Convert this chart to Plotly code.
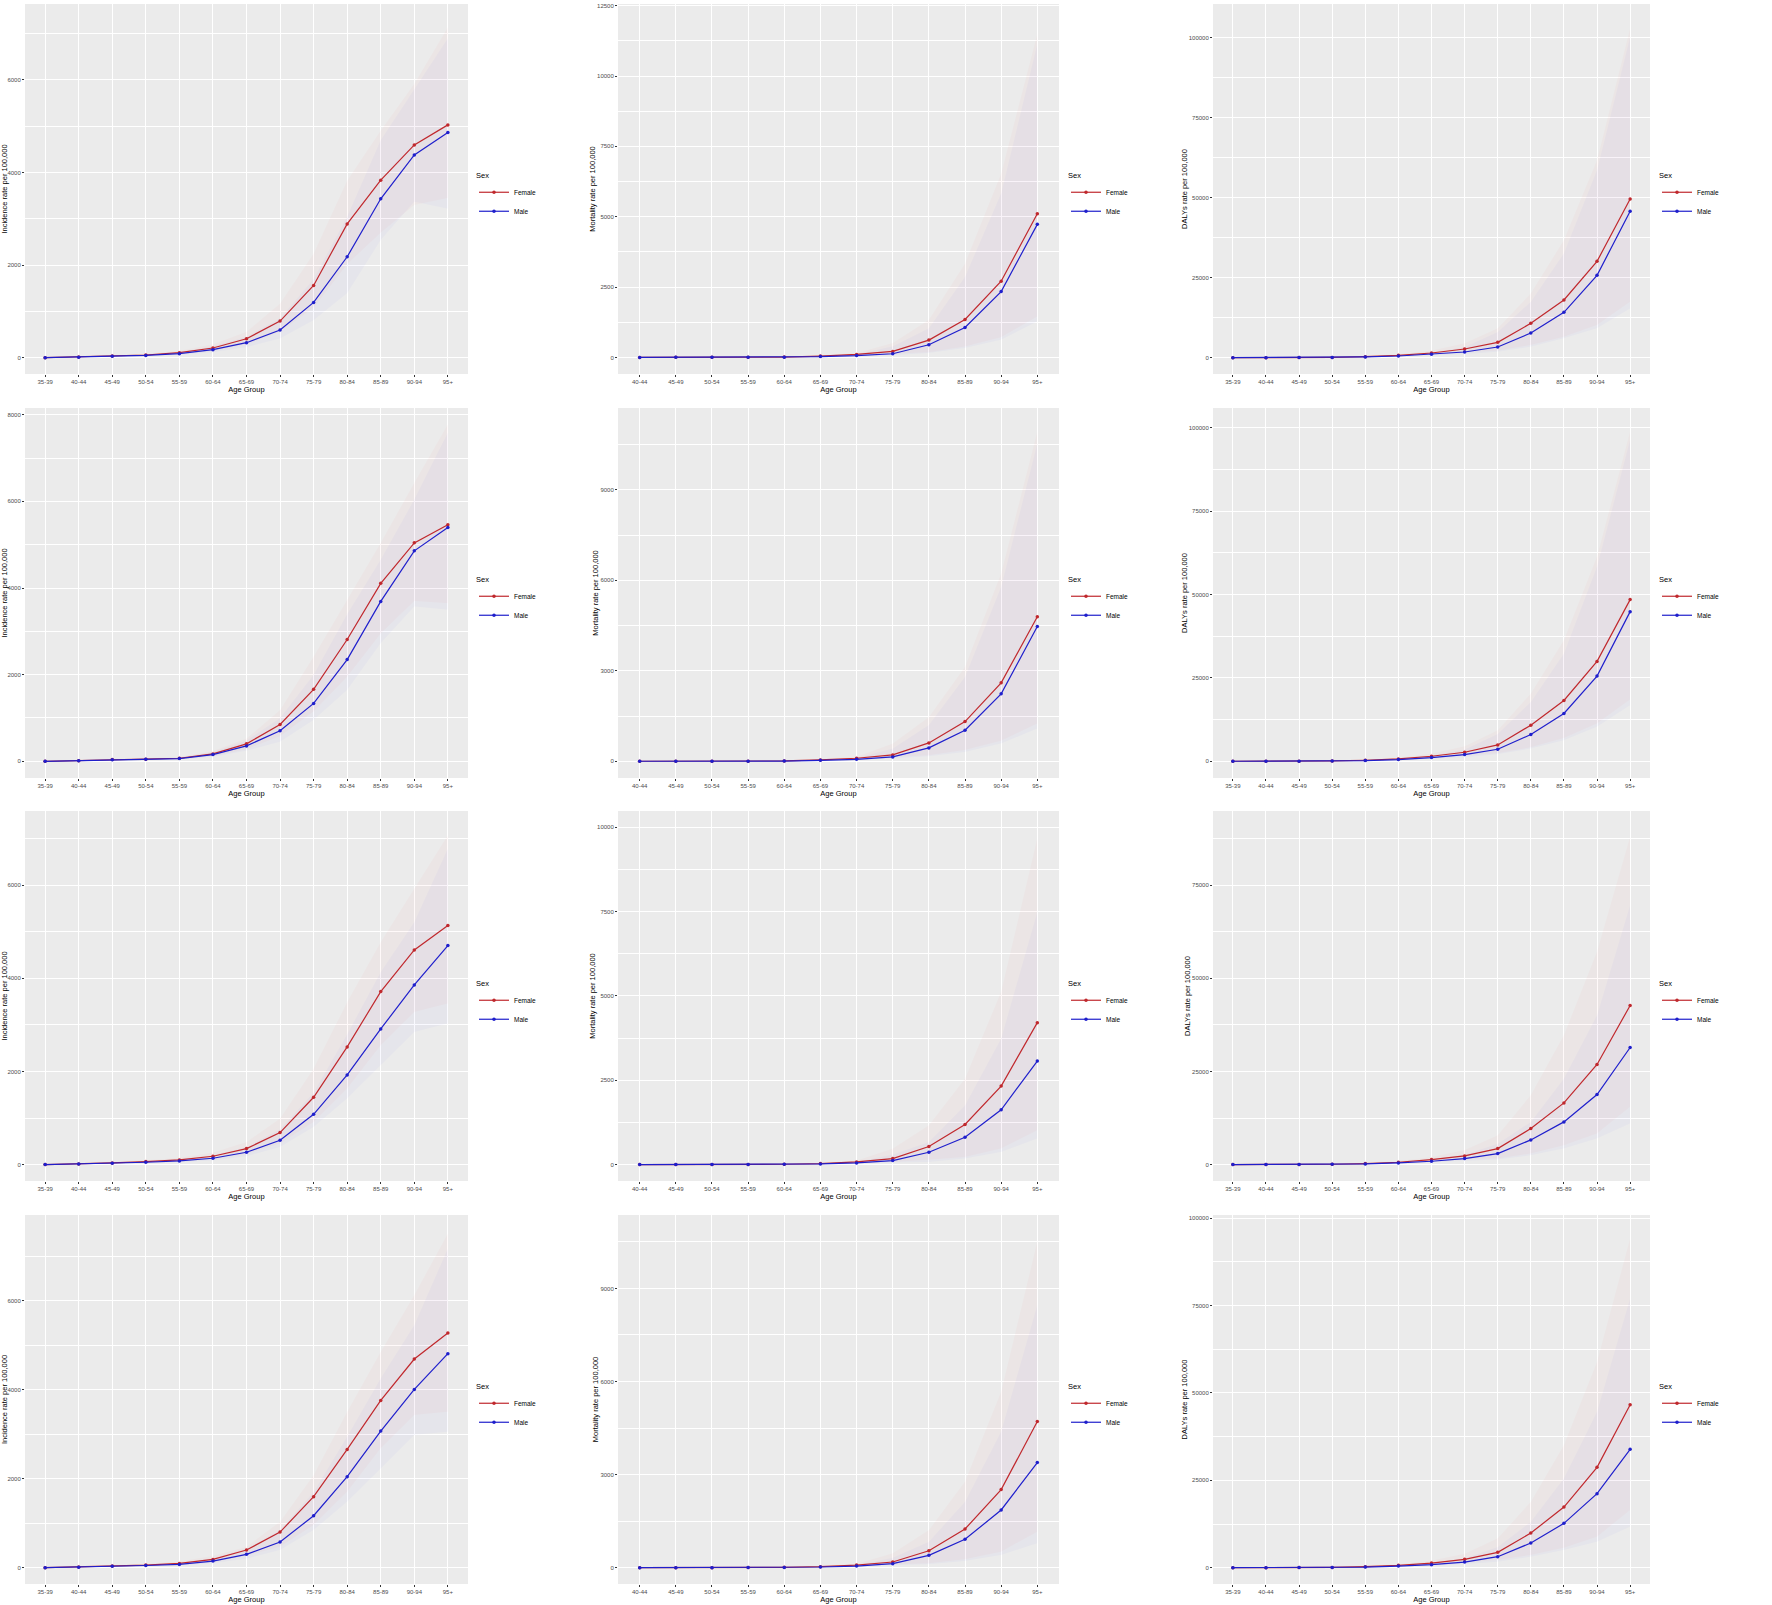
import plotly.graph_objects as go
from plotly.subplots import make_subplots

# 年龄组
AGES_13 = ["35-39", "40-44", "45-49", "50-54", "55-59", "60-64", "65-69",
           "70-74", "75-79", "80-84", "85-89", "90-94", "95+"]
AGES_12 = ["40-44", "45-49", "50-54", "55-59", "60-64", "65-69",
           "70-74", "75-79", "80-84", "85-89", "90-94", "95+"]

# 第1行
inc1_f = [0, 15, 36, 58, 108, 209, 410, 791, 1561, 2890, 3835, 4597, 5029]
inc1_f_hi = [2, 24, 55, 85, 150, 290, 560, 1170, 2250, 3830, 4910, 5920, 7140]
inc1_f_lo = [0, 10, 25, 40, 75, 145, 285, 560, 1080, 2020, 2700, 3300, 3450]
inc1_m = [0, 12, 30, 50, 86, 173, 324, 597, 1194, 2180, 3432, 4381, 4863]
inc1_m_hi = [2, 20, 45, 75, 125, 245, 455, 850, 1700, 3050, 4700, 5800, 6900]
inc1_m_lo = [0, 8, 20, 35, 60, 120, 225, 415, 810, 1390, 2540, 3370, 3220]

mort1_f = [0, 1, 2, 5, 12, 47, 106, 213, 615, 1348, 2707, 5106]
mort1_f_hi = [1, 2, 4, 8, 20, 75, 160, 510, 1340, 3340, 6540, 11500]
mort1_f_lo = [0, 0, 1, 3, 8, 30, 70, 130, 185, 390, 720, 1450]
mort1_m = [0, 1, 2, 4, 9, 30, 65, 130, 449, 1064, 2340, 4728]
mort1_m_hi = [1, 2, 4, 7, 16, 50, 110, 400, 1040, 2870, 5830, 11150]
mort1_m_lo = [0, 0, 1, 2, 5, 18, 40, 80, 154, 331, 626, 1277]

daly1_f = [5, 15, 40, 90, 313, 730, 1458, 2708, 4792, 10729, 18021, 30104, 49583]
daly1_f_hi = [8, 25, 65, 140, 470, 1100, 2250, 4480, 9170, 20100, 36770, 61770, 102900]
daly1_f_lo = [3, 10, 27, 60, 210, 480, 950, 1700, 2190, 3960, 6560, 10200, 17500]
daly1_m = [3, 10, 30, 70, 250, 520, 1042, 1771, 3333, 7708, 14167, 25729, 45729]
daly1_m_hi = [6, 18, 50, 110, 380, 800, 1650, 3300, 8000, 17500, 32600, 58650, 100300]
daly1_m_lo = [2, 6, 20, 45, 160, 330, 650, 1050, 1875, 3440, 6040, 9170, 15400]

# 第2行
inc2_f = [0, 15, 39, 46, 70, 170, 402, 849, 1660, 2811, 4108, 5042, 5459]
inc2_f_hi = [2, 24, 58, 68, 100, 240, 525, 1181, 2417, 3730, 5042, 6432, 7780]
inc2_f_lo = [0, 10, 27, 32, 48, 115, 280, 580, 1150, 1950, 2950, 3700, 3650]
inc2_m = [0, 13, 36, 44, 62, 154, 355, 703, 1336, 2347, 3691, 4857, 5397]
inc2_m_hi = [2, 20, 52, 63, 90, 215, 480, 1000, 2000, 3400, 4656, 6046, 7590]
inc2_m_lo = [0, 9, 25, 30, 42, 105, 245, 448, 950, 1645, 2726, 3575, 3498]

mort2_f = [0, 1, 2, 4, 11, 44, 100, 210, 609, 1317, 2601, 4793]
mort2_f_hi = [1, 2, 4, 7, 18, 70, 150, 587, 1472, 3133, 6235, 10940]
mort2_f_lo = [0, 0, 1, 2, 7, 28, 65, 130, 200, 370, 680, 1250]
mort2_m = [0, 1, 2, 3, 8, 30, 66, 144, 443, 1030, 2236, 4472]
mort2_m_hi = [1, 2, 4, 6, 14, 48, 105, 420, 1200, 2800, 5790, 10550]
mort2_m_lo = [0, 0, 1, 2, 5, 18, 40, 90, 166, 310, 587, 1085]

daly2_f = [5, 15, 40, 90, 300, 701, 1503, 2705, 4910, 10822, 18236, 29960, 48497]
daly2_f_hi = [8, 25, 65, 140, 450, 1050, 2300, 4500, 9320, 20340, 36350, 61400, 99000]
daly2_f_lo = [3, 10, 27, 60, 200, 470, 980, 1700, 2400, 4200, 7000, 11300, 18500]
daly2_m = [3, 10, 30, 70, 200, 501, 1102, 2004, 3607, 8016, 14329, 25551, 44890]
daly2_m_hi = [6, 18, 50, 110, 310, 780, 1750, 3500, 8200, 17800, 32300, 58400, 96500]
daly2_m_lo = [2, 6, 20, 45, 130, 320, 700, 1200, 2100, 3810, 6310, 10320, 16830]

# 第3行
inc3_f = [0, 14, 36, 64, 100, 179, 343, 687, 1445, 2526, 3714, 4608, 5130]
inc3_f_hi = [2, 22, 54, 95, 145, 260, 487, 988, 2064, 3490, 4780, 5925, 7070]
inc3_f_lo = [0, 9, 24, 44, 68, 120, 230, 451, 916, 1631, 2562, 3277, 3456]
inc3_m = [0, 12, 31, 51, 79, 136, 265, 522, 1080, 1925, 2912, 3857, 4701]
inc3_m_hi = [2, 19, 46, 76, 115, 200, 380, 760, 1550, 2800, 4135, 5209, 6784]
inc3_m_lo = [0, 8, 21, 35, 53, 90, 180, 379, 809, 1417, 2132, 2848, 3027]

mort3_f = [0, 1, 2, 4, 10, 30, 79, 178, 535, 1188, 2327, 4208]
mort3_f_hi = [1, 2, 4, 7, 16, 48, 120, 475, 1168, 2554, 5129, 9683]
mort3_f_lo = [0, 0, 1, 2, 6, 19, 45, 80, 140, 228, 475, 1020]
mort3_m = [0, 1, 2, 3, 7, 20, 50, 119, 366, 812, 1624, 3069]
mort3_m_hi = [1, 2, 4, 6, 12, 34, 85, 300, 673, 1762, 3740, 7500]
mort3_m_lo = [0, 0, 1, 2, 4, 12, 30, 60, 79, 178, 376, 772]

daly3_f = [5, 15, 40, 90, 269, 627, 1343, 2327, 4297, 9667, 16560, 26855, 42700]
daly3_f_hi = [8, 25, 65, 140, 410, 950, 2050, 3900, 7880, 18650, 34760, 57160, 88000]
daly3_f_lo = [3, 10, 27, 60, 180, 420, 880, 1450, 1610, 2950, 5190, 8330, 15490]
daly3_m = [3, 10, 30, 70, 179, 448, 895, 1611, 2954, 6624, 11458, 18800, 31420]
daly3_m_hi = [6, 18, 50, 110, 280, 700, 1420, 2700, 5600, 11460, 23100, 40100, 69650]
daly3_m_lo = [2, 6, 20, 45, 115, 290, 570, 980, 1340, 2500, 4300, 6980, 11010]

# 第4行
inc4_f = [0, 15, 37, 60, 97, 187, 397, 801, 1596, 2659, 3760, 4689, 5273]
inc4_f_hi = [2, 24, 56, 90, 140, 270, 472, 1034, 2082, 3506, 4854, 6127, 7513]
inc4_f_lo = [0, 10, 25, 41, 66, 125, 270, 472, 959, 1708, 2682, 3431, 3506]
inc4_m = [0, 12, 31, 50, 75, 150, 300, 577, 1169, 2045, 3071, 4007, 4809]
inc4_m_hi = [2, 19, 46, 74, 110, 220, 430, 850, 1700, 2950, 4255, 5453, 7176]
inc4_m_lo = [0, 8, 21, 34, 50, 100, 200, 397, 846, 1483, 2232, 2981, 3056]

mort4_f = [0, 1, 2, 4, 11, 32, 86, 183, 548, 1247, 2516, 4710]
mort4_f_hi = [1, 2, 4, 7, 18, 52, 130, 462, 1215, 2774, 5677, 10516]
mort4_f_lo = [0, 0, 1, 2, 7, 20, 55, 100, 140, 269, 516, 1161]
mort4_m = [0, 1, 2, 3, 8, 22, 54, 129, 398, 914, 1860, 3387]
mort4_m_hi = [1, 2, 4, 6, 13, 36, 90, 320, 839, 2129, 4387, 8473]
mort4_m_lo = [0, 0, 1, 2, 5, 13, 32, 70, 108, 215, 409, 785]

daly4_f = [5, 15, 40, 90, 286, 668, 1336, 2385, 4389, 9924, 17366, 28721, 46660]
daly4_f_hi = [8, 25, 65, 140, 430, 1010, 2050, 4000, 8400, 18890, 35110, 58970, 94270]
daly4_f_lo = [3, 10, 27, 60, 190, 440, 870, 1480, 2190, 3630, 5730, 8870, 16510]
daly4_m = [3, 10, 30, 70, 191, 477, 859, 1622, 3149, 7061, 12691, 21183, 33874]
daly4_m_hi = [6, 18, 50, 110, 300, 740, 1370, 2700, 5900, 13170, 25570, 44660, 77100]
daly4_m_lo = [2, 6, 20, 45, 125, 310, 550, 990, 1720, 3150, 5060, 7440, 11740]

INC_TITLE = "Incidence rate per 100,000"
MORT_TITLE = "Mortality rate per 100,000"
DALY_TITLE = "DALYs rate per 100,000"

# (行, 列, 年龄组, 女, 女下, 女上, 男, 男下, 男上, y标题, y范围, 刻度间隔)
panels = [
    (1, 1, AGES_13, inc1_f, inc1_f_lo, inc1_f_hi, inc1_m, inc1_m_lo, inc1_m_hi, INC_TITLE, [-352, 7640], 2000),
    (1, 2, AGES_12, mort1_f, mort1_f_lo, mort1_f_hi, mort1_m, mort1_m_lo, mort1_m_hi, MORT_TITLE, [-590, 12560], 2500),
    (1, 3, AGES_13, daly1_f, daly1_f_lo, daly1_f_hi, daly1_m, daly1_m_lo, daly1_m_hi, DALY_TITLE, [-5100, 110500], 25000),
    (2, 1, AGES_13, inc2_f, inc2_f_lo, inc2_f_hi, inc2_m, inc2_m_lo, inc2_m_hi, INC_TITLE, [-386, 8155], 2000),
    (2, 2, AGES_12, mort2_f, mort2_f_lo, mort2_f_hi, mort2_m, mort2_m_lo, mort2_m_hi, MORT_TITLE, [-555, 11717], 3000),
    (2, 3, AGES_13, daly2_f, daly2_f_lo, daly2_f_hi, daly2_m, daly2_m_lo, daly2_m_hi, DALY_TITLE, [-5020, 105980], 25000),
    (3, 1, AGES_13, inc3_f, inc3_f_lo, inc3_f_hi, inc3_m, inc3_m_lo, inc3_m_hi, INC_TITLE, [-352, 7590], 2000),
    (3, 2, AGES_12, mort3_f, mort3_f_lo, mort3_f_hi, mort3_m, mort3_m_lo, mort3_m_hi, MORT_TITLE, [-487, 10484], 2500),
    (3, 3, AGES_13, daly3_f, daly3_f_lo, daly3_f_hi, daly3_m, daly3_m_lo, daly3_m_hi, DALY_TITLE, [-4400, 94870], 25000),
    (4, 1, AGES_13, inc4_f, inc4_f_lo, inc4_f_hi, inc4_m, inc4_m_lo, inc4_m_hi, INC_TITLE, [-366, 7926], 2000),
    (4, 2, AGES_12, mort4_f, mort4_f_lo, mort4_f_hi, mort4_m, mort4_m_lo, mort4_m_hi, MORT_TITLE, [-525, 11365], 3000),
    (4, 3, AGES_13, daly4_f, daly4_f_lo, daly4_f_hi, daly4_m, daly4_m_lo, daly4_m_hi, DALY_TITLE, [-4665, 100940], 25000),
]

W, H = 1772, 1605
RED = "#C0282D"
BLUE = "#1F1FCC"
RED_FILL = "rgba(255, 0, 0, 0.022)"
BLUE_FILL = "rgba(0, 0, 255, 0.022)"
FONT = "Liberation Sans, Arial, sans-serif"

# 像素位置
col_px = [(25, 468), (618, 1059), (1213, 1650)]
row_px = [(4, 374), (408, 778), (811, 1181), (1215, 1584)]
legend_x_px = [474, 1066, 1657]
legend_y_px = [168, 572, 976, 1379]

fig = make_subplots(rows=4, cols=3)

for k, (r, c, ages, f, f_lo, f_hi, m, m_lo, m_hi, ytitle, yrange, dtick) in enumerate(panels):
    lname = "legend" if k == 0 else f"legend{k + 1}"

    # 置信区间带
    for lo, hi, fc in [(f_lo, f_hi, RED_FILL), (m_lo, m_hi, BLUE_FILL)]:
        fig.add_trace(go.Scatter(
            x=ages + ages[::-1], y=hi + lo[::-1],
            fill="toself", fillcolor=fc, line=dict(width=0),
            mode="lines", hoverinfo="skip", showlegend=False
        ), row=r, col=c)

    # 折线
    for name, vals, color in [("Female", f, RED), ("Male", m, BLUE)]:
        fig.add_trace(go.Scatter(
            x=ages, y=vals, name=name, mode="lines+markers",
            line=dict(color=color, width=1.2),
            marker=dict(color=color, size=3.5),
            legend=lname
        ), row=r, col=c)

    x0, x1 = col_px[c - 1]
    y0, y1 = row_px[r - 1]
    fig.update_xaxes(
        domain=[x0 / W, x1 / W],
        type="category", categoryorder="array", categoryarray=ages,
        range=[-0.6, len(ages) - 0.4],
        showgrid=True, gridcolor="white", gridwidth=1,
        ticks="outside", ticklen=2, tickcolor="#333333",
        tickfont=dict(size=6, color="#4D4D4D", family=FONT),
        title=dict(text="Age Group", font=dict(size=7.5, color="black", family=FONT), standoff=0),
        showline=False, zeroline=False, automargin=False,
        row=r, col=c
    )
    fig.update_yaxes(
        domain=[1 - y1 / H, 1 - y0 / H],
        range=yrange, tick0=0, dtick=dtick, tickformat="d",
        showgrid=True, gridcolor="white", gridwidth=1,
        minor=dict(dtick=dtick / 2, showgrid=True, gridcolor="white", gridwidth=0.5),
        ticks="outside", ticklen=2, tickcolor="#333333",
        tickfont=dict(size=6, color="#4D4D4D", family=FONT),
        title=dict(text=ytitle, font=dict(size=7.5, color="black", family=FONT), standoff=0),
        showline=False, zeroline=False, automargin=False,
        row=r, col=c
    )

    fig.update_layout({lname: dict(
        title=dict(text="Sex", font=dict(size=7.5, color="black", family=FONT)),
        font=dict(size=6.5, color="black", family=FONT),
        x=legend_x_px[c - 1] / W, y=1 - legend_y_px[r - 1] / H,
        xanchor="left", yanchor="top",
        bgcolor="rgba(0,0,0,0)", borderwidth=0,
        itemwidth=30, tracegroupgap=0
    )})

fig.update_layout(
    width=W, height=H,
    margin=dict(l=0, r=0, t=0, b=0),
    paper_bgcolor="white",
    plot_bgcolor="#EBEBEB",
    font=dict(family=FONT),
    hovermode=False
)

# 去掉页面默认边距，使图表贴齐窗口
fig.write_html("out.html", config={"displayModeBar": False},
               post_script="document.body.style.margin='0';")
